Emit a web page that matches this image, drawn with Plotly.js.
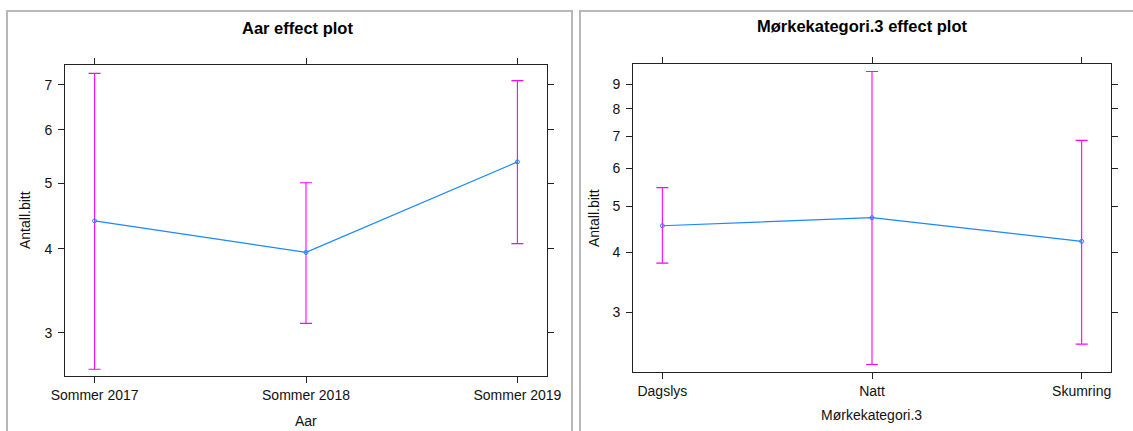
<!DOCTYPE html>
<html>
<head>
<meta charset="utf-8">
<script src="https://cdn.plot.ly/plotly-3.0.1.min.js"></script>
<style>html,body{margin:0;padding:0;background:#fff;}#chart{width:1133px;height:431px;}</style>
</head>
<body>
<div id="chart"></div>
<script>
// Panel 1: Aar
const aarCategories = ["Sommer 2017", "Sommer 2018", "Sommer 2019"];
const aarFit   = [4.40, 3.95, 5.38];
const aarLower = [2.65, 3.10, 4.07];
const aarUpper = [7.28, 5.01, 7.10];
const aarTicks = [3, 4, 5, 6, 7];

// Panel 2: Mørkekategori.3
const morkCategories = ["Dagslys", "Natt", "Skumring"];
const morkFit   = [4.55, 4.73, 4.22];
const morkLower = [3.80, 2.33, 2.57];
const morkUpper = [5.47, 9.58, 6.87];
const morkTicks = [3, 4, 5, 6, 7, 8, 9];

const W = 1133, H = 431;
const px = x => x / W;
const py = y => 1 - y / H;

const lineColor = '#1a88ff';
const barColor = '#ff00ff';
const fontFam = '"Liberation Sans", Arial, sans-serif';

function idx(c) { return c.map((_, i) => i); }

function panelTraces(cats, fit, lo, hi, xa, ya) {
  return [
    {
      x: idx(cats), y: fit, xaxis: xa, yaxis: ya, type: 'scatter', mode: 'markers',
      marker: {size: 0.1, color: 'rgba(0,0,0,0)'},
      error_y: {type: 'data', symmetric: false,
        array: fit.map((f, i) => hi[i] - f),
        arrayminus: fit.map((f, i) => f - lo[i]),
        color: barColor, thickness: 1.1, width: 6},
      hoverinfo: 'skip', showlegend: false
    },
    {
      x: idx(cats), y: fit, xaxis: xa, yaxis: ya, type: 'scatter', mode: 'lines+markers',
      line: {color: lineColor, width: 1.2},
      marker: {symbol: 'circle-open', size: 4, color: lineColor, line: {width: 1}},
      showlegend: false
    }
  ];
}

const data = [].concat(
  panelTraces(aarCategories, aarFit, aarLower, aarUpper, 'x', 'y'),
  panelTraces(morkCategories, morkFit, morkLower, morkUpper, 'x2', 'y2')
);

function xAxis(cats, d0, d1, anchor) {
  return {
    domain: [px(d0), px(d1)], anchor: anchor,
    range: [-0.14, 2.14], tickmode: 'array', tickvals: idx(cats), ticktext: cats,
    showgrid: false, zeroline: false, showline: true, linecolor: '#222', linewidth: 1,
    mirror: 'ticks', ticks: 'outside', ticklen: 6, tickcolor: '#222', tickwidth: 1,
    tickfont: {family: fontFam, size: 14, color: '#111'}, fixedrange: true
  };
}
function yAxis(ticks, lo, hi, top, bottom, anchor) {
  return {
    domain: [py(bottom), py(top)], anchor: anchor, type: 'log',
    range: [Math.log10(lo), Math.log10(hi)], tickmode: 'array', tickvals: ticks,
    ticktext: ticks.map(String),
    showgrid: false, zeroline: false, showline: true, linecolor: '#222', linewidth: 1,
    mirror: 'ticks', ticks: 'outside', ticklen: 6, tickcolor: '#222', tickwidth: 1,
    ticklabelstandoff: 3,
    tickfont: {family: fontFam, size: 14, color: '#111'}, fixedrange: true
  };
}

const layout = {
  width: W, height: H,
  margin: {l: 0, r: 0, t: 0, b: 0},
  paper_bgcolor: '#fff', plot_bgcolor: '#fff',
  showlegend: false,
  xaxis: xAxis(aarCategories, 65, 547, 'y'),
  yaxis: yAxis(aarTicks, 2.59, 7.49, 65, 376, 'x'),
  xaxis2: xAxis(morkCategories, 633, 1111, 'y2'),
  yaxis2: yAxis(morkTicks, 2.247, 9.93, 64, 372, 'x2'),
  shapes: [
    {type: 'rect', xref: 'paper', yref: 'paper', x0: px(7), x1: px(572), y0: py(440), y1: py(11),
     line: {color: '#b8b8b8', width: 2}, fillcolor: 'rgba(0,0,0,0)', layer: 'below'},
    {type: 'rect', xref: 'paper', yref: 'paper', x0: px(580), x1: px(1145), y0: py(440), y1: py(11),
     line: {color: '#b8b8b8', width: 2}, fillcolor: 'rgba(0,0,0,0)', layer: 'below'}
  ],
  annotations: [
    {text: '<b>Aar effect plot</b>', xref: 'paper', yref: 'paper', x: px(297), y: py(28),
     showarrow: false, xanchor: 'center', yanchor: 'middle', font: {family: fontFam, size: 16.5, color: '#000'}},
    {text: '<b>Mørkekategori.3 effect plot</b>', xref: 'paper', yref: 'paper', x: px(862), y: py(26),
     showarrow: false, xanchor: 'center', yanchor: 'middle', font: {family: fontFam, size: 16.5, color: '#000'}},
    {text: 'Aar', xref: 'paper', yref: 'paper', x: px(306), y: py(421),
     showarrow: false, xanchor: 'center', yanchor: 'middle', font: {family: fontFam, size: 14, color: '#111'}},
    {text: 'Mørkekategori.3', xref: 'paper', yref: 'paper', x: px(871), y: py(415),
     showarrow: false, xanchor: 'center', yanchor: 'middle', font: {family: fontFam, size: 14, color: '#111'}},
    {text: 'Antall.bitt', xref: 'paper', yref: 'paper', x: px(25), y: py(220), textangle: -90,
     showarrow: false, xanchor: 'center', yanchor: 'middle', font: {family: fontFam, size: 14, color: '#111'}},
    {text: 'Antall.bitt', xref: 'paper', yref: 'paper', x: px(594), y: py(218), textangle: -90,
     showarrow: false, xanchor: 'center', yanchor: 'middle', font: {family: fontFam, size: 14, color: '#111'}}
  ]
};

Plotly.newPlot('chart', data, layout, {displayModeBar: false, staticPlot: true});
</script>
</body>
</html>
